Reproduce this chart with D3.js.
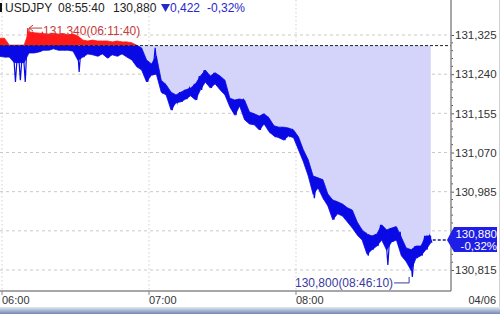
<!DOCTYPE html>
<html>
<head>
<meta charset="utf-8">
<script src="https://cdn.jsdelivr.net/npm/d3@7"></script>
<style>
  body { margin: 0; background: #fff; }
  svg { display: block; font-family: "Liberation Sans", Arial, sans-serif; }
</style>
</head>
<body>
<svg id="chart" width="500" height="314" viewBox="0 0 500 314"></svg>
<script>
// 2-minute buckets starting 05:59, price high / low / last
const startTime = "2023-04-06 05:59"
const stepMinutes = 2
const hi = [131.318,131.318,131.303,131.303,131.303,131.303,131.340,131.332,131.329,131.332,
  131.327,131.329,131.327,131.329,131.325,131.327,131.323,131.314,131.312,131.314,
  131.312,131.312,131.312,131.310,131.312,131.310,131.310,131.308,131.303,131.297,
  131.271,131.262,131.297,131.227,131.217,131.201,131.195,131.201,131.206,131.210,
  131.219,131.236,131.249,131.236,131.243,131.236,131.227,131.188,131.184,131.186,
  131.184,131.158,131.154,131.149,131.154,131.145,131.128,131.125,131.125,131.123,
  131.119,131.104,131.076,131.054,131.019,131.015,131.011,130.980,130.967,130.963,
  130.958,130.950,130.945,130.919,130.902,130.893,130.889,130.893,130.913,130.902,
  130.906,130.909,130.898,130.863,130.859,130.867,130.867,130.889,130.889]
const lo = [131.279,131.277,131.277,131.223,131.227,131.223,131.286,131.286,131.288,131.292,
  131.292,131.295,131.292,131.292,131.292,131.290,131.245,131.277,131.284,131.282,
  131.279,131.284,131.275,131.282,131.279,131.284,131.277,131.271,131.256,131.249,
  131.223,131.238,131.240,131.201,131.195,131.162,131.178,131.180,131.186,131.193,
  131.184,131.206,131.223,131.210,131.219,131.206,131.195,131.169,131.151,131.171,
  131.141,131.132,131.130,131.119,131.132,131.115,131.106,131.102,131.097,131.106,
  131.102,131.076,131.050,131.019,130.971,130.993,130.971,130.954,130.924,130.937,
  130.932,130.919,130.906,130.891,130.880,130.846,130.859,130.867,130.880,130.826,
  130.876,130.880,130.846,130.833,130.800,130.841,130.846,130.859,130.874]
const last = [131.301,131.299,131.297,131.292,131.292,131.292,131.305,131.303,131.303,131.301,
  131.301,131.303,131.301,131.301,131.301,131.301,131.297,131.299,131.301,131.301,
  131.299,131.301,131.299,131.301,131.299,131.301,131.299,131.297,131.282,131.271,
  131.249,131.249,131.253,131.217,131.206,131.188,131.186,131.191,131.195,131.201,
  131.210,131.223,131.236,131.227,131.232,131.223,131.210,131.180,131.175,131.180,
  131.158,131.145,131.141,131.141,131.145,131.128,131.119,131.115,131.115,131.115,
  131.112,131.091,131.065,131.037,131.006,131.004,130.997,130.967,130.950,130.952,
  130.945,130.937,130.928,130.906,130.891,130.876,130.872,130.880,130.898,130.885,
  130.891,130.898,130.859,130.848,130.841,130.854,130.859,130.876,130.880]

const prevClose = 131.302
const yTicks = [131.325, 131.240, 131.155, 131.070, 130.985, 130.900, 130.815]
const xTicks = ["06:00", "07:00", "08:00"]
const header = ["USDJPY", "08:55:40", "130,880", "0,422", "-0,32%"]
const highNote = {price: 131.340, time: "06:11:40"}
const lowNote = {price: 130.800, time: "08:46:10"}
const lastLabel = ["130,880", "-0,32%"]

const svg = d3.select("#chart")
const parse = d3.timeParse("%Y-%m-%d %H:%M")
const parseS = d3.timeParse("%Y-%m-%d %H:%M:%S")
const t0 = parse(startTime)
const times = hi.map((d, i) => d3.timeMinute.offset(t0, i * stepMinutes))

const plotRight = 451, plotBottom = 291
const x = d3.scaleTime()
    .domain([parseS("2023-04-06 05:59:11"), parseS("2023-04-06 09:03:16")])
    .range([0, plotRight])
const y = d3.scaleLinear()
    .domain([131.325, 130.815])
    .range([35, 270])
const fmt = v => d3.format(".3f")(v).replace(".", ",")
const lastPrice = last[last.length - 1]

// grid
svg.append("g").selectAll("line")
    .data(yTicks)
    .enter().append("line")
    .attr("x1", 0).attr("x2", plotRight)
    .attr("y1", d => y(d)).attr("y2", d => y(d))
    .attr("stroke", "#c9c9c9").attr("stroke-dasharray", "3,3")
svg.append("g").selectAll("line")
    .data(xTicks)
    .enter().append("line")
    .attr("x1", d => x(parse("2023-04-06 " + d))).attr("x2", d => x(parse("2023-04-06 " + d)))
    .attr("y1", 0).attr("y2", plotBottom)
    .attr("stroke", "#cfcfcf").attr("stroke-dasharray", "1.5,2.5")

// fill between prev close and price
const area = d3.area()
    .x((d, i) => x(times[i]))
    .y0(y(prevClose))
    .y1(d => y(Math.min(d, prevClose)))
svg.append("path")
    .datum(last)
    .attr("d", area)
    .attr("fill", "#d4d4fb")

// core band (clamped near last price) + zigzag to the extremes
const core = 0.027
const pts = []
hi.forEach((h, i) => {
    pts.push([x(times[i]) - 1.2, y(h)])
    pts.push([x(times[i]) + 1.2, y(lo[i])])
})
const band = d3.area()
    .x((d, i) => x(times[i]))
    .y0((d, i) => y(Math.max(lo[i], last[i] - core)))
    .y1((d, i) => y(Math.min(hi[i], last[i] + core)))
const defs = svg.append("defs")
defs.append("clipPath").attr("id", "above")
    .append("rect").attr("x", 0).attr("y", 0).attr("width", plotRight).attr("height", y(prevClose))
defs.append("clipPath").attr("id", "below")
    .append("rect").attr("x", 0).attr("y", y(prevClose)).attr("width", plotRight).attr("height", plotBottom - y(prevClose))
const line = d3.line()
const sides = [{clip: "above", color: "#ff1a1a"}, {clip: "below", color: "#0a0ae6"}]
sides.forEach(s => {
    const g = svg.append("g").attr("clip-path", `url(#${s.clip})`)
    g.append("path").datum(hi).attr("d", band)
        .attr("fill", s.color).attr("stroke", s.color).attr("stroke-width", 0.8)
    g.append("path").attr("d", line(pts))
        .attr("fill", "none").attr("stroke", s.color).attr("stroke-width", 1.2)
})

// prev close dashed line
svg.append("line")
    .attr("x1", 0).attr("x2", plotRight)
    .attr("y1", y(prevClose)).attr("y2", y(prevClose))
    .attr("stroke", "#222").attr("stroke-dasharray", "3,2")

// y axis on the right (the 130,900 label sits under the last-price box)
const yAxis = d3.axisRight(y)
    .tickValues(yTicks)
    .tickSize(3)
    .tickFormat(d => Math.abs(d - lastPrice) < 0.03 ? "" : fmt(d))
const ga = svg.append("g").attr("transform", `translate(${plotRight},0)`).call(yAxis)
ga.select(".domain").remove()
ga.selectAll("line").attr("stroke", "#555")
ga.selectAll("text").attr("x", 4).attr("fill", "#333").style("font-size", "11.5px")
    .style("font-family", "'Liberation Sans', Arial, sans-serif")
const minor = d3.range(130.815, 131.34, 0.017).filter(v => !yTicks.some(t => Math.abs(t - v) < 0.002))
svg.append("g").selectAll("line")
    .data(minor)
    .enter().append("line")
    .attr("x1", plotRight).attr("x2", plotRight + 2)
    .attr("y1", d => y(d)).attr("y2", d => y(d))
    .attr("stroke", "#555")
svg.append("line")
    .attr("x1", plotRight).attr("x2", plotRight)
    .attr("y1", 0).attr("y2", plotBottom)
    .attr("stroke", "#8a8a8a").attr("stroke-width", 1.5)

// x axis
svg.append("line")
    .attr("x1", 0).attr("x2", plotRight)
    .attr("y1", plotBottom).attr("y2", plotBottom)
    .attr("stroke", "#8a8a8a").attr("stroke-width", 1.5)
const gx = svg.append("g").selectAll("g")
    .data(xTicks)
    .enter().append("g")
    .attr("transform", d => `translate(${x(parse("2023-04-06 " + d))},${plotBottom})`)
gx.append("line").attr("y1", 0).attr("y2", 4).attr("stroke", "#888")
gx.append("text")
    .attr("x", 0).attr("y", 9).attr("dy", "0.35em")
    .attr("fill", "#333").style("font-size", "11px")
    .text(d => d)
svg.append("text")
    .attr("x", 496).attr("y", 300).attr("dy", "0.35em")
    .attr("text-anchor", "end")
    .attr("fill", "#333").style("font-size", "11px")
    .text("04/06")

// header
svg.append("rect").attr("x", 0).attr("y", 3).attr("width", 2).attr("height", 9).attr("fill", "#111")
const hx = [5, 58, 113, 170, 207]
const hc = ["#222", "#222", "#222", "#2828c8", "#2828c8"]
svg.append("g").selectAll("text")
    .data(header)
    .enter().append("text")
    .attr("x", (d, i) => hx[i]).attr("y", 8).attr("dy", "0.35em")
    .attr("fill", (d, i) => hc[i]).style("font-size", "12px")
    .text(d => d)
svg.append("path").attr("d", "M161,4H170L165.5,12Z").attr("fill", "#2828c8")

// high annotation
const hxp = x(parseS("2023-04-06 " + highNote.time)) - 1.5, hyp = y(highNote.price)
svg.append("path")
    .attr("d", `M${hxp},${hyp + 5}V${hyp}H${hxp + 13}M${hxp},${hyp}l4,-3M${hxp},${hyp}l4,3`)
    .attr("fill", "none").attr("stroke", "#c83a3a")
svg.append("text")
    .attr("x", hxp + 14).attr("y", hyp + 3).attr("dy", "0.35em")
    .attr("fill", "#c83a3a").style("font-size", "12px")
    .text(fmt(highNote.price) + "(" + highNote.time + ")")

// low annotation
const lxp = x(parseS("2023-04-06 " + lowNote.time)), lyp = y(lowNote.price)
svg.append("path")
    .attr("d", `M${lxp},${lyp}V${lyp + 6}H${lxp - 15}`)
    .attr("fill", "none").attr("stroke", "#3a3aa0")
svg.append("text")
    .attr("x", lxp - 16).attr("y", lyp + 6).attr("dy", "0.35em")
    .attr("text-anchor", "end")
    .attr("fill", "#3a3aa0").style("font-size", "12px")
    .text(fmt(lowNote.price) + "(" + lowNote.time + ")")

// last price marker
const ly = y(lastPrice)
svg.append("line")
    .attr("x1", x(times[times.length - 1]) + 2).attr("x2", 447)
    .attr("y1", ly).attr("y2", ly)
    .attr("stroke", "#1a1aa0").attr("stroke-width", 1.5).attr("stroke-dasharray", "3,2")
svg.append("path")
    .attr("d", `M447,${ly}L454,${ly - 13}H497V${ly + 12}H454Z`)
    .attr("fill", "#1e1ee6")
svg.append("g").selectAll("text")
    .data(lastLabel)
    .enter().append("text")
    .attr("x", 497).attr("y", (d, i) => ly - 6 + i * 12).attr("dy", "0.35em")
    .attr("text-anchor", "end")
    .attr("fill", "#fff").style("font-size", "11.5px")
    .text(d => d)

// bottom strip and right edge
const grad = defs.append("linearGradient").attr("id", "strip").attr("x1", 0).attr("x2", 0).attr("y1", 0).attr("y2", 1)
grad.append("stop").attr("offset", 0).attr("stop-color", "#e4e9f2")
grad.append("stop").attr("offset", 1).attr("stop-color", "#6f88b2")
svg.append("rect").attr("x", 0).attr("y", 307).attr("width", 500).attr("height", 7).attr("fill", "url(#strip)")
svg.append("line").attr("x1", 499.5).attr("x2", 499.5).attr("y1", 0).attr("y2", 307).attr("stroke", "#d0d0d0")
</script>
</body>
</html>
